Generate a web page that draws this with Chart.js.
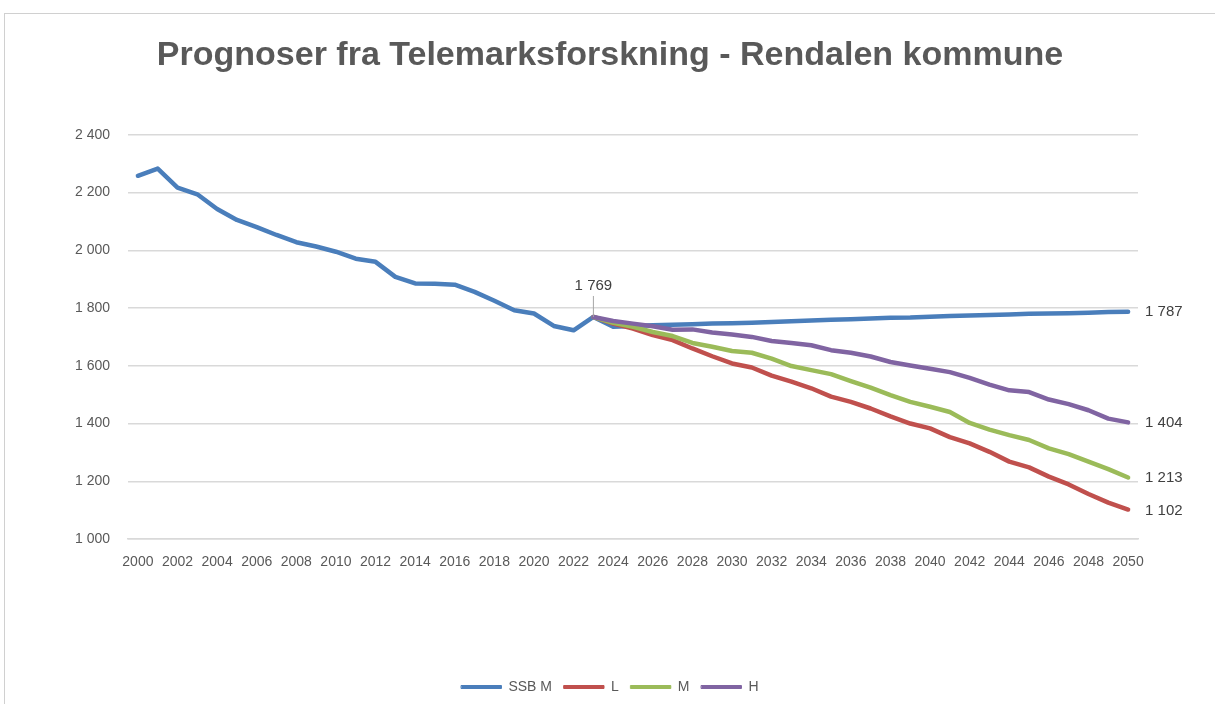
<!DOCTYPE html>
<html>
<head>
<meta charset="utf-8">
<script src="https://cdn.jsdelivr.net/npm/chart.js@4.4.0/dist/chart.umd.min.js"></script>
<style>
  html, body { margin: 0; padding: 0; background: #fff; overflow: hidden; }
  #frame { position: absolute; left: 4px; top: 13px; width: 1211px; height: 691px;
           border-top: 1px solid #d0d0d0; border-left: 1px solid #d0d0d0; }
  #frame canvas { display: block; }
</style>
</head>
<body>
<div id="frame"><canvas id="chart" width="1210" height="690"></canvas></div>
<script>
// Years 2000 - 2050
const years = [];
for (let y = 2000; y <= 2050; y++) years.push(String(y));

// SSB M: history to 2023, then SSB projection
const ssbM = [2258, 2283, 2217, 2194, 2143, 2105, 2080, 2053, 2028, 2013,
              1995, 1971, 1960, 1908, 1885, 1884, 1881, 1856, 1825, 1792,
              1781, 1738, 1723, 1769, 1735, 1738, 1740, 1742, 1744, 1746,
              1747, 1749, 1752, 1754, 1757, 1759, 1761, 1764, 1766, 1767,
              1770, 1772, 1774, 1776, 1778, 1780, 1781, 1782, 1784, 1786, 1787];

// Telemarksforskning low / middle / high, 2023 - 2050
const lowFrom2023 = [1769, 1746, 1729, 1706, 1689, 1660, 1633, 1608, 1594, 1566,
                     1545, 1522, 1493, 1475, 1452, 1425, 1400, 1383, 1353, 1331,
                     1302, 1268, 1248, 1216, 1189, 1156, 1126, 1102];
const midFrom2023 = [1769, 1749, 1735, 1717, 1703, 1679, 1666, 1651, 1645, 1625,
                     1599, 1585, 1571, 1547, 1524, 1498, 1475, 1458, 1440, 1402,
                     1379, 1360, 1343, 1314, 1294, 1268, 1242, 1213];
const highFrom2023 = [1769, 1755, 1746, 1737, 1725, 1726, 1715, 1708, 1700, 1686,
                      1679, 1671, 1654, 1645, 1632, 1613, 1601, 1590, 1578, 1558,
                      1535, 1515, 1509, 1483, 1467, 1446, 1417, 1404];

const seriesNames = ['SSB M', 'L', 'M', 'H'];
const seriesColors = ['#4a7ebb', '#c0504d', '#9bbb59', '#8064a2'];
const yTicks = [1000, 1200, 1400, 1600, 1800, 2000, 2200, 2400];

const pad = arr => new Array(years.length - arr.length).fill(null).concat(arr);
const fmt = v => String(v).replace(/\B(?=(\d{3})+(?!\d))/g, ' ');
const FONT = '"Liberation Sans", Arial, sans-serif';

const allSeries = [ssbM, pad(lowFrom2023), pad(midFrom2023), pad(highFrom2023)];

// value labels at the line ends, plus the 2023 marker on SSB M
const endLabels = {
    id: 'endLabels',
    afterDatasetsDraw(chart) {
        const ctx = chart.ctx;
        ctx.save();
        ctx.font = '15px ' + FONT;
        ctx.fillStyle = '#404040';
        ctx.textBaseline = 'middle';
        chart.data.datasets.forEach((ds, i) => {
            const meta = chart.getDatasetMeta(i);
            const last = meta.data[meta.data.length - 1];
            ctx.textAlign = 'left';
            ctx.fillText(fmt(ds.data[ds.data.length - 1]), last.x + 17, last.y + (i === 1 ? 1 : 0));
        });
        const idx = years.indexOf('2023');
        const pt = chart.getDatasetMeta(0).data[idx];
        ctx.strokeStyle = '#a6a6a6';
        ctx.lineWidth = 1;
        ctx.beginPath();
        ctx.moveTo(pt.x, pt.y - 21);
        ctx.lineTo(pt.x, pt.y);
        ctx.stroke();
        ctx.textAlign = 'center';
        ctx.fillText(fmt(ssbM[idx]), pt.x, pt.y - 31);
        ctx.restore();
    }
};

new Chart(document.getElementById('chart'), {
    type: 'line',
    data: {
        labels: years,
        datasets: allSeries.map((d, i) => ({
            label: seriesNames[i],
            data: d,
            borderColor: seriesColors[i],
            backgroundColor: seriesColors[i],
            borderWidth: 4.5,
            pointRadius: 0,
            tension: 0,
            borderCapStyle: 'round',
            borderJoinStyle: 'round',
            order: 4 - i
        }))
    },
    options: {
        responsive: false,
        animation: false,
        layout: { padding: 0 },
        plugins: {
            title: {
                display: true,
                text: 'Prognoser fra Telemarksforskning - Rendalen kommune',
                color: '#595959',
                font: { family: FONT, size: 34, weight: 'bold' },
                padding: { top: 21, bottom: 59 }
            },
            legend: {
                position: 'bottom',
                labels: {
                    color: '#595959',
                    font: { family: FONT, size: 14 },
                    boxWidth: 40,
                    boxHeight: 3,
                    padding: 12,
                    sort: (a, b) => a.datasetIndex - b.datasetIndex,
                    generateLabels(chart) {
                        const items = Chart.defaults.plugins.legend.labels.generateLabels(chart);
                        items.forEach(it => { it.lineWidth = 1; });
                        return items;
                    }
                }
            },
            tooltip: { enabled: false }
        },
        scales: {
            x: {
                offset: true,
                grid: { display: false, drawTicks: false },
                border: { display: true, color: '#d9d9d9', width: 1.5 },
                ticks: {
                    color: '#595959',
                    font: { family: FONT, size: 14 },
                    autoSkip: false,
                    maxRotation: 0,
                    minRotation: 0,
                    padding: 15,
                    callback: function (val, i) { return i % 2 === 0 ? years[i] : ''; }
                },
                afterFit: s => { s.height = 129; }
            },
            y: {
                min: yTicks[0],
                max: yTicks[yTicks.length - 1],
                grid: { color: '#d9d9d9', lineWidth: 1.5, drawTicks: false },
                border: { display: false },
                ticks: {
                    stepSize: 200,
                    color: '#595959',
                    font: { family: FONT, size: 14 },
                    padding: 18,
                    callback: v => fmt(v)
                },
                afterFit: s => { s.width = 123; }
            },
            // empty right-hand axis that keeps room for the end labels
            yRight: {
                position: 'right',
                min: yTicks[0],
                max: yTicks[yTicks.length - 1],
                grid: { display: false, drawTicks: false },
                border: { display: false },
                ticks: { display: false },
                afterFit: s => { s.width = 77; }
            }
        }
    },
    plugins: [endLabels]
});
</script>
</body>
</html>
